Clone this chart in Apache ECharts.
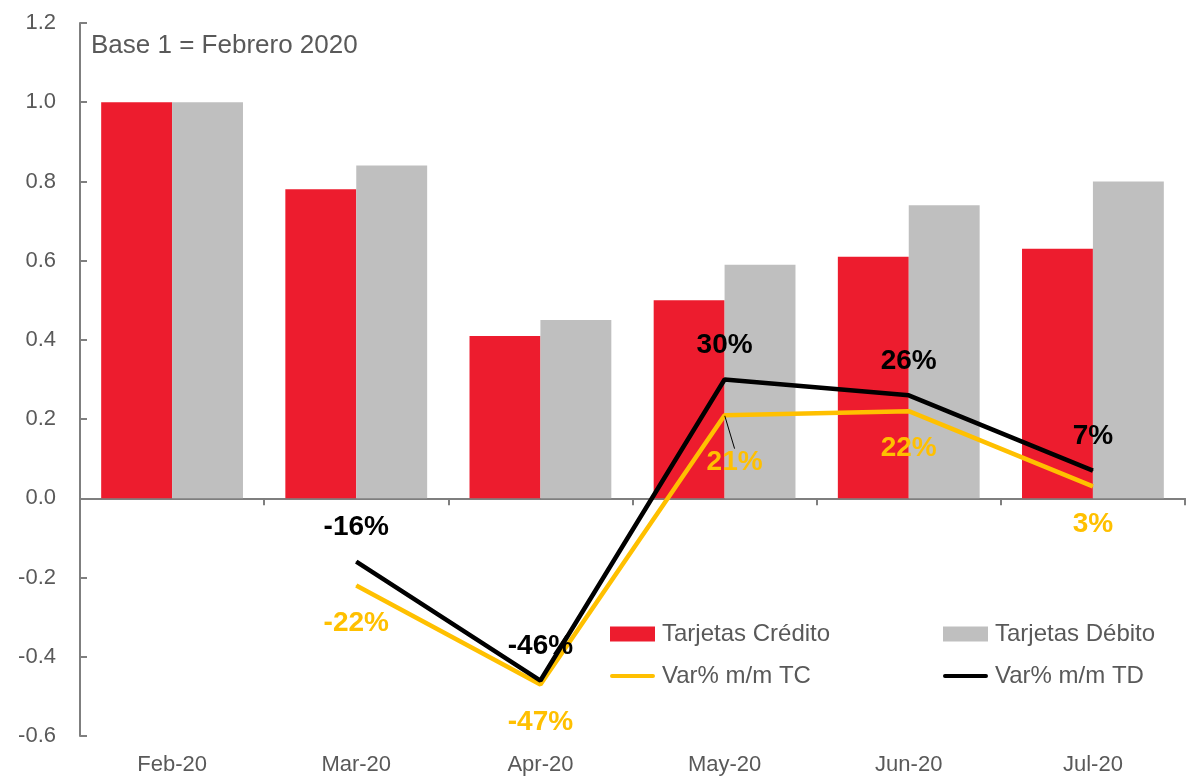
<!DOCTYPE html>
<html>
<head>
<meta charset="utf-8">
<script src="https://cdn.jsdelivr.net/npm/echarts@6/dist/echarts.min.js"></script>
<style>
html,body{margin:0;padding:0;background:#fff;}
#chart{width:1194px;height:776px;}
</style>
</head>
<body>
<div id="chart"></div>
<script>
var categories = ['Feb-20','Mar-20','Apr-20','May-20','Jun-20','Jul-20'];
var tarjetasCredito = [1.0, 0.78, 0.41, 0.50, 0.61, 0.63];
var tarjetasDebito = [1.0, 0.84, 0.45, 0.59, 0.74, 0.80];
var varTC = [null, -0.22, -0.47, 0.21, 0.22, 0.03];
var varTD = [null, -0.16, -0.46, 0.30, 0.26, 0.07];

var FONT = 'Liberation Sans, Arial, sans-serif';
var GREY_TXT = '#595959';
var LINE_ICON = 'path://M2,0 L44,0 A2,2 0 0 1 44,4 L2,4 A2,2 0 0 1 2,0 Z';

function pct(v){ return Math.round(v*100) + '%'; }

// TC: leader line only on the May label, which is pushed aside
var varTCData = varTC.map(function(v, i){
  return i === 3 ? {value: v, labelLine: {show: true}} : {value: v};
});

var chart = echarts.init(document.getElementById('chart'));
chart.setOption({
  animation: false,
  textStyle: {fontFamily: FONT},
  grid: {left: 80, right: 9, top: 23, bottom: 40, containLabel: false},
  graphic: [{
    type: 'text', left: 91, top: 33,
    style: {text: 'Base 1 = Febrero 2020', fill: GREY_TXT, font: '26px ' + FONT}
  }],
  legend: [{
    orient: 'vertical', left: 605, top: 617, itemGap: 18,
    itemWidth: 45, itemHeight: 15, symbolKeepAspect: true,
    data: [{name: 'Tarjetas Crédito', icon: 'rect'}, {name: 'Var% m/m TC', icon: LINE_ICON}],
    textStyle: {color: GREY_TXT, fontSize: 24, fontFamily: FONT, padding: [0,0,0,2]}
  },{
    orient: 'vertical', left: 938, top: 617, itemGap: 18,
    itemWidth: 45, itemHeight: 15, symbolKeepAspect: true,
    data: [{name: 'Tarjetas Débito', icon: 'rect'}, {name: 'Var% m/m TD', icon: LINE_ICON}],
    textStyle: {color: GREY_TXT, fontSize: 24, fontFamily: FONT, padding: [0,0,0,2]}
  }],
  xAxis: [{
    type: 'category', data: categories,
    axisLine: {onZero: true, lineStyle: {color: '#7f7f7f', width: 2}},
    axisTick: {show: true, length: 7, lineStyle: {color: '#7f7f7f', width: 2}},
    axisLabel: {show: false}
  },{
    type: 'category', data: categories, position: 'bottom',
    axisLine: {show: false}, axisTick: {show: false},
    axisLabel: {color: GREY_TXT, fontSize: 22, fontFamily: FONT, margin: 18}
  }],
  yAxis: {
    type: 'value', min: -0.6, max: 1.2, interval: 0.2,
    splitLine: {show: false},
    axisLine: {show: true, lineStyle: {color: '#7f7f7f', width: 2}},
    axisTick: {show: true, inside: true, length: 7, lineStyle: {color: '#7f7f7f', width: 2}},
    axisLabel: {color: GREY_TXT, fontSize: 22, fontFamily: FONT, margin: 24,
      formatter: function(v){ return v.toFixed(1); }}
  },
  series: [{
    name: 'Tarjetas Crédito', type: 'bar', data: tarjetasCredito,
    barGap: '0%', barCategoryGap: '23%',
    itemStyle: {color: '#ED1C2E'}
  },{
    name: 'Tarjetas Débito', type: 'bar', data: tarjetasDebito,
    barGap: '0%', barCategoryGap: '23%',
    itemStyle: {color: '#BFBFBF'}
  },{
    name: 'Var% m/m TC', type: 'line', data: varTCData,
    symbol: 'circle', symbolSize: 1, showSymbol: true, z: 5,
    lineStyle: {color: '#FFC000', width: 4.5},
    itemStyle: {color: '#FFC000'},
    label: {show: true, position: 'bottom', distance: 23, color: '#FFC000',
      fontWeight: 'bold', fontSize: 28, fontFamily: FONT,
      formatter: function(p){ return pct(p.value); }},
    labelLayout: function(p){
      if (p.dataIndex === 3) return {dx: 10, dy: 10};
      return {};
    },
    labelLine: {show: false, lineStyle: {color: '#000', width: 1}, length2: 0}
  },{
    name: 'Var% m/m TD', type: 'line', data: varTD,
    symbol: 'circle', symbolSize: 1, showSymbol: true, z: 6,
    lineStyle: {color: '#000000', width: 4.5},
    itemStyle: {color: '#000000'},
    label: {show: true, position: 'top', distance: 20, color: '#000',
      fontWeight: 'bold', fontSize: 28, fontFamily: FONT,
      formatter: function(p){ return pct(p.value); }}
  }]
});
</script>
</body>
</html>
